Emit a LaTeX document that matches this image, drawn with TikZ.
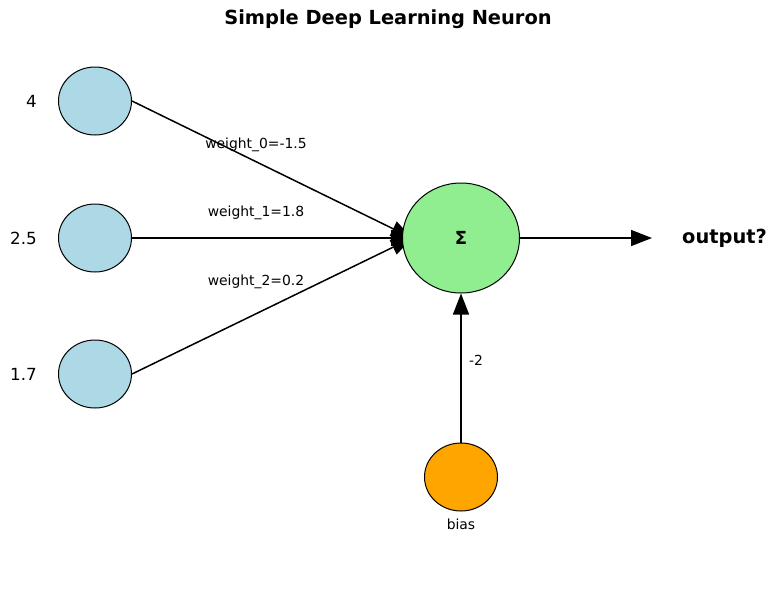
\documentclass[tikz,border=0pt]{standalone}
\usepackage{fontspec}
\setmainfont{DejaVu Sans}
\usetikzlibrary{arrows.meta,backgrounds,shapes.geometric}
\definecolor{inblue}{RGB}{173,216,230}
\definecolor{sumgreen}{RGB}{144,238,144}
\definecolor{biasorange}{RGB}{255,165,0}
\tikzset{
  neuron/.style={ellipse,draw=black,line width=1pt,inner sep=0pt,minimum width=73pt,minimum height=68pt},
  link/.style={line width=1.5pt,-{Triangle[length=21pt,width=16pt]}},
  small/.style={font=\fontsize{13.9}{16}\selectfont},
  mid/.style={font=\fontsize{16.7}{19}\selectfont},
  big/.style={font=\fontsize{19.4}{23}\selectfont\bfseries},
}

\begin{document}
\begin{tikzpicture}[x=1pt,y=-1pt]
\useasboundingbox (0,0) rectangle (776,590);
\node[big] (title) at (388,19) {Simple Deep Learning Neuron};
\node[neuron,fill=inblue] (in0) at (95,101) {};
\node[neuron,fill=inblue] (in1) at (95,238) {};
\node[neuron,fill=inblue] (in2) at (95,374) {};
\node[mid,anchor=east,inner sep=0pt] (x0) at (37,101) {4};
\node[mid,anchor=east,inner sep=0pt] (x1) at (37,238) {2.5};
\node[mid,anchor=east,inner sep=0pt] (x2) at (37,374) {1.7};
\node[neuron,fill=sumgreen,minimum width=117pt,minimum height=110pt,font=\fontsize{18}{20}\selectfont\bfseries] (sum) at (461,238) {Σ};
\node[neuron,fill=biasorange] (bias) at (461,477) {};
\node[small] (biaslabel) at (461,524) {bias};
\node[big,anchor=west,inner sep=0pt] (out) at (682,238) {output?};
\coordinate (sumtip) at (412,238);
\coordinate (outtip) at (652,238);
\begin{scope}[on background layer]
\foreach \i in {0,1,2}
  \draw[link] (in\i.east) -- (sumtip);
\end{scope}
\draw[link] (sum.east) -- (outtip);
\draw[link] (bias) -- (sum);
\node[small] (w0) at (256,145) {weight\_0=-1.5};
\node[small] (w1) at (256,213) {weight\_1=1.8};
\node[small] (w2) at (256,282) {weight\_2=0.2};
\node[small,anchor=west,inner sep=0pt] (wb) at (469,360) {-2};
\end{tikzpicture}
\end{document}
